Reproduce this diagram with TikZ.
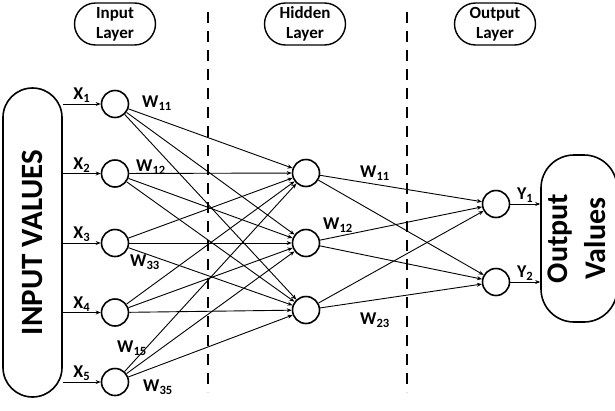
\documentclass[tikz,border=0pt]{standalone}
\usepackage{fontspec}
\setmainfont{Carlito}
\usetikzlibrary{arrows.meta}

\begin{document}
\begin{tikzpicture}[
    x=1pt, y=1pt,
    neuron/.style={draw, circle, line width=1.6pt, minimum size=27pt, inner sep=0pt},
    valbox/.style={draw, line width=1.6pt, inner sep=0pt},
    layerlbl/.style={draw, line width=1.4pt, rounded corners=21pt, minimum width=81pt, minimum height=42pt, align=center, inner sep=0pt, font=\bfseries\fontsize{17}{20}\selectfont},
    wlbl/.style={font=\bfseries\fontsize{18}{20}\selectfont, inner sep=1pt},
    arrow/.style={-{Stealth[length=5pt, width=4pt]}, line width=0.9pt},
    sepline/.style={dash pattern=on 11pt off 8pt, line width=1.2pt}
]
    \useasboundingbox (0,0) rectangle (615,-410);

    % Layer separators
    \draw[sepline] (208,-12) -- (208,-392);
    \draw[sepline] (407,-12) -- (407,-392);

    % Layer titles
    \node[layerlbl] (tin) at (115,-24) {Input\\Layer};
    \node[layerlbl] (thid) at (305,-24) {Hidden\\Layer};
    \node[layerlbl] (tout) at (495,-24) {Output\\Layer};

    % Value boxes
    \node[valbox, minimum width=59pt, minimum height=309pt, rounded corners=29.5pt,
          font=\bfseries\fontsize{31}{37}\selectfont] (inbox) at (32.5,-242.5)
          {\rotatebox{90}{INPUT VALUES}};
    \node[valbox, minimum width=66pt, minimum height=167pt, rounded corners=33pt,
          font=\bfseries\fontsize{30}{38}\selectfont] (outbox) at (579,-238.5)
          {\rotatebox{90}{\begin{tabular}{@{}c@{}}Output\\Values\end{tabular}}};

    % Neurons
    \node[neuron] (in1) at (115,-104) {};
    \node[neuron] (in2) at (115,-173.5) {};
    \node[neuron] (in3) at (115,-243) {};
    \node[neuron] (in4) at (115,-312.5) {};
    \node[neuron] (in5) at (115,-382) {};
    \node[neuron] (hid1) at (306,-173) {};
    \node[neuron] (hid2) at (306,-243) {};
    \node[neuron] (hid3) at (306,-310) {};
    \node[neuron] (out1) at (496,-204) {};
    \node[neuron] (out2) at (496,-282) {};

    % Inputs
    \foreach \i in {1,...,5}
        \draw[arrow] (inbox.east |- in\i) -- node[above, wlbl] (x\i) {X\textsubscript{\i}} (in\i);

    % Connections
    \foreach \i in {1,...,5}
        \foreach \j in {1,2,3}
            \draw[arrow] (in\i) -- (hid\j);
    \foreach \j in {1,2,3}
        \foreach \k in {1,2}
            \draw[arrow] (hid\j) -- (out\k);

    % Outputs
    \draw[arrow] (out1) -- node[above, wlbl] (y1) {Y\textsubscript{1}} (out1 -| outbox.west);
    \draw[arrow] (out2) -- node[above, wlbl] (y2) {Y\textsubscript{2}} (out2 -| outbox.west);

    % Weights
    \node[wlbl] (wa11) at (157,-103) {W\textsubscript{11}};
    \node[wlbl] (wa12) at (151,-167) {W\textsubscript{12}};
    \node[wlbl] (wa33) at (145,-262) {W\textsubscript{33}};
    \node[wlbl] (wa15) at (132,-348) {W\textsubscript{15}};
    \node[wlbl] (wa35) at (158,-387) {W\textsubscript{35}};
    \node[wlbl] (wb11) at (375,-173) {W\textsubscript{11}};
    \node[wlbl] (wb12) at (338,-225) {W\textsubscript{12}};
    \node[wlbl] (wb23) at (375,-320) {W\textsubscript{23}};
\end{tikzpicture}
\end{document}
